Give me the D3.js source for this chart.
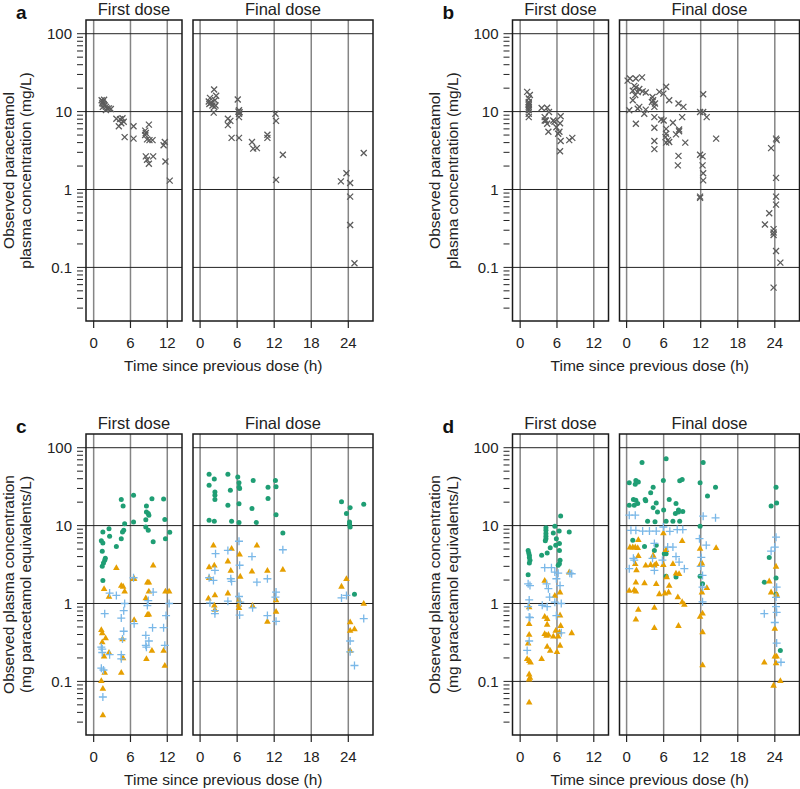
<!DOCTYPE html>
<html>
<head>
<meta charset="utf-8">
<script src="https://cdn.jsdelivr.net/npm/d3@7"></script>
<style>
  body { margin: 0; background: #fff; }
  svg text { font-family: "Liberation Sans", Arial, Helvetica, sans-serif; fill: #222; }
</style>
</head>
<body>
<svg id="chart" width="800" height="789"></svg>
<script>
// [time since dose (h), concentration]
const aFirst = [[1.3,14],[1.5,13.5],[1.6,12.5],[1.8,12],[2.0,11.5],[2.2,11],[2.5,11],[1.5,11.5],[2.8,10.8],[1.4,12.8],[2.0,10.5],[1.7,14.2],
  [3.7,8.1],[4.3,8.0],[4.7,8.2],[4.5,7.1],[4.9,7.4],[4.1,6.5],[5.05,4.7],[6.5,6.5],[6.5,4.5],[9.0,6.8],[8.4,5.7],[8.5,5.3],[8.4,5.0],
  [8.7,4.4],[9.1,4.3],[9.6,4.3],[8.5,2.66],[8.7,2.41],[9.0,2.14],[9.7,2.66],[11.6,4.07],[11.4,3.69],[11.7,2.29],[12.4,1.3]];
const aFinal = [[2.27,19.2],[1.6,15],[1.4,13.5],[1.8,13],[2.4,14],[2.5,12],[2.3,11.5],[1.5,12.5],[2.2,9.7],[2.6,16],[2.0,12],
  [6.1,14.3],[6.3,10.4],[6.3,9.4],[6.3,8.5],[6.4,9.8],[6.2,10],[4.5,8.1],[4.9,7.6],[4.5,6.7],[5.1,4.6],[6.3,4.6],[8.4,4.07],[8.6,3.35],
  [9.2,3.4],[10.9,5.05],[10.9,4.6],[12.2,9.4],[12.3,7.6],[13.4,2.8],[12.3,1.33],[26.5,2.94],[23.7,1.62],[22.8,1.27],[24.3,1.21],
  [24.3,0.81],[24.3,0.35],[25.0,0.113]];

const bFirst = [[1.14,17.9],[1.58,16.3],[1.4,14.7],[1.4,13.3],[1.4,12.7],[1.4,12.1],[1.4,11.5],[1.4,10.9],[1.4,10.4],[1.4,9.4],[1.4,8.5],
  [3.5,11.1],[4.4,11.2],[4.7,9.9],[4.0,8.5],[4.2,7.7],[4.4,7.0],[4.6,5.5],[4.0,7.7],[5.4,7.7],[5.6,7.4],[5.9,6.3],[6.4,5.5],
  [6.2,5.2],[6.6,4.2],[6.5,3.1],[6.6,8.7],[6.5,7.1],[8.0,4.3],[8.5,4.6]];
const bFinal = [[0.16,25],[0.54,26.6],[1.5,26.6],[2.5,27.5],[1.24,21.4],[1.5,20.4],[2.05,19.5],[1.0,18.5],[1.8,17.8],[2.6,18.2],[3.1,17.6],
  [1.4,16.3],[1.0,14],[0.43,10.4],[1.5,7.0],[2.05,11.5],[2.86,9.4],[3.1,10.6],[1.8,10.9],[4.2,15.4],[4.3,14],[4.1,13.3],[4.6,12.7],
  [4.5,11.5],[5.3,17.9],[5.95,17],[6.4,20.8],[4.5,8.5],[4.5,6.2],[4.5,4.2],[4.5,3.3],[5.6,7.9],[6.0,7.7],[6.4,6.0],[6.4,5.2],[6.3,4.7],
  [6.7,4.3],[6.9,4.07],[6.4,4.0],[6.9,14],[7.5,7.2],[8.0,5.1],[8.4,12.7],[9.2,11.5],[9.0,8.5],[8.5,5.9],[8.5,5.6],[9.5,4.0],[8.4,2.7],
  [8.3,2.04],[12.4,16.7],[11.9,9.9],[12.4,9.9],[12.97,8.5],[11.9,2.8],[12.3,2.66],[12.3,2.04],[12.4,1.62],[12.4,1.31],[11.9,0.81],
  [11.9,0.78],[14.5,4.5],[23.4,3.4],[24.2,4.5],[24.3,4.3],[24.2,1.41],[24.2,0.81],[24.2,0.64],[23.1,0.495],[22.4,0.355],[23.8,0.31],
  [23.8,0.28],[23.8,0.26],[24.2,0.162],[24.9,0.115],[23.8,0.055]];

const cFirstGreen = [[4.5,21.6],[6.5,24.5],[4.8,17.8],[9.5,22.2],[11.4,22],[8.6,17.9],[8.6,15],[8.9,14.3],[9.0,13.6],[8.5,11.9],[11.6,12],
  [6.5,11.1],[5.05,10.6],[4.9,8.7],[4.7,8.3],[4.5,6.8],[8.5,9.6],[8.9,8.7],[1.5,8.3],[2.5,9.1],[2.6,7.3],[1.25,6.4],[1.5,6.0],[1.4,4.7],
  [1.9,3.8],[1.8,3.6],[1.6,3.3],[1.4,3.0],[1.5,1.98],[3.7,5.4],[9.7,6.2],[11.7,6.8],[12.4,8.2]];
const cFirstOrange = [[3.7,2.88],[9.7,3.1],[6.5,2.08],[6.6,2.1],[4.5,1.7],[4.8,1.66],[5.05,1.44],[8.75,1.88],[9.0,1.88],[9.0,1.44],
  [11.7,1.44],[12.3,1.44],[1.7,1.55],[2.5,1.23],[8.5,1.18],[8.75,0.72],[9.0,0.73],[6.6,0.62],[1.25,0.46],[1.4,0.42],[1.95,0.36],
  [1.4,0.32],[2.5,0.235],[1.7,0.21],[4.7,0.35],[4.8,0.2],[9.5,0.25],[11.4,0.25],[8.6,0.195],[4.5,0.13],[11.6,0.16],[1.25,0.102],
  [1.5,0.081],[1.5,0.037],[1.8,0.13]];
const cFirstBlue = [[6.5,2.14],[2.6,1.36],[3.7,1.27],[9.7,1.4],[5.05,1.0],[4.9,0.81],[8.9,1.09],[8.75,0.94],[12.3,1.0],[11.8,0.7],
  [1.8,0.74],[4.5,0.65],[6.6,0.55],[4.9,0.44],[9.6,0.49],[11.4,0.49],[8.5,0.39],[9.0,0.33],[4.7,0.35],[1.25,0.275],[1.4,0.235],
  [1.4,0.26],[8.5,0.29],[8.6,0.275],[11.6,0.29],[4.5,0.22],[4.5,0.195],[2.6,0.22],[1.25,0.148],[1.6,0.14],[1.5,0.063]];
const cFinalGreen = [[1.46,45.8],[4.5,45.8],[6.1,42],[2.3,39.6],[1.46,33],[6.3,35.6],[6.3,31],[6.4,30],[8.6,38],[11.0,31],[12.2,38],
  [12.3,31.6],[2.4,27],[2.4,24.5],[2.4,21.6],[4.9,28.5],[11.0,22.3],[4.5,18.3],[6.3,19.1],[8.4,16.6],[12.3,13.8],[1.46,11.7],
  [2.3,11.4],[5.1,11.4],[6.3,11],[9.1,11],[13.4,8.05],[22.9,20.2],[24.3,17],[23.7,14.3],[26.5,18.8],[24.2,11.1],[24.2,10.4],
  [24.3,9.6],[25.0,1.31]];
const cFinalOrange = [[2.16,5.6],[5.1,5.1],[9.2,5.6],[6.4,4.3],[2.3,3.1],[1.46,2.94],[4.5,3.5],[4.97,2.66],[8.4,2.6],[10.9,2.66],
  [13.4,2.74],[1.46,2.14],[6.5,2.23],[23.7,2.08],[22.9,1.66],[1.35,1.17],[2.4,1.29],[4.5,1.36],[6.3,1.11],[12.3,1.11],[2.3,0.95],
  [2.4,0.84],[6.3,0.97],[6.3,0.88],[8.5,0.94],[12.3,0.79],[10.9,0.59],[26.5,1.0],[24.3,0.58],[24.3,0.45],[25.0,0.47],[24.3,0.25]];
const cFinalBlue = [[6.3,6.3],[4.5,4.8],[2.5,4.36],[8.4,4.0],[13.4,4.9],[6.4,3.1],[2.4,2.66],[1.46,2.14],[2.16,1.98],[4.97,2.08],
  [5.1,1.92],[9.2,1.88],[10.9,2.08],[12.3,1.4],[6.3,1.23],[4.5,1.07],[1.6,1.02],[6.5,1.04],[2.4,0.81],[2.4,0.74],[6.4,0.71],
  [8.5,0.88],[10.9,0.70],[12.3,0.59],[12.2,1.21],[22.9,1.18],[23.7,1.27],[26.5,0.64],[24.3,0.33],[24.3,0.24],[25.0,0.16]];

const dFirstGreen = [[6.6,13.3],[5.65,9.8],[6.36,8.5],[8.0,8.3],[4.2,9.4],[4.2,8.7],[4.2,7.9],[4.2,7.3],[4.2,6.8],[4.1,6.4],[5.4,8.05],
  [5.9,6.8],[6.4,5.9],[4.9,5.2],[4.4,4.45],[3.5,4.15],[5.8,5.6],[6.4,4.8],[6.5,3.6],[6.4,3.24],[6.2,3.1],[1.3,4.8],[1.4,4.45],
  [1.5,4.15],[1.5,3.9],[1.6,3.6],[1.5,3.3],[1.3,2.34]];
const dFirstOrange = [[8.0,2.53],[4.0,1.98],[6.5,1.4],[5.65,1.27],[1.47,0.9],[4.0,0.68],[4.4,0.64],[6.5,0.71],[1.47,0.55],[4.4,0.54],
  [6.6,0.52],[5.8,0.45],[6.4,0.43],[1.47,0.4],[4.0,0.41],[4.3,0.39],[4.6,0.4],[8.4,0.42],[5.4,0.38],[6.2,0.38],[6.5,0.29],[4.4,0.28],
  [1.3,0.31],[4.9,0.25],[6.0,0.24],[3.5,0.195],[1.14,0.195],[1.47,0.185],[1.7,0.176],[1.47,0.124],[1.6,0.112],[1.47,0.107],[1.47,0.054]];
const dFirstBlue = [[4.0,2.88],[5.1,2.88],[5.65,2.53],[6.2,2.45],[8.1,2.45],[8.4,2.41],[5.9,2.08],[1.3,1.79],[1.6,1.7],[4.3,1.79],
  [4.6,1.55],[6.5,1.7],[1.47,1.11],[1.3,0.91],[3.6,0.95],[4.4,0.91],[4.8,1.21],[5.65,1.04],[6.7,1.0],[1.47,0.67],[1.6,0.66],
  [5.9,0.70],[6.7,0.42],[1.47,0.33],[1.14,0.25]];
const dFinalGreen = [[2.5,64.6],[6.4,72],[12.4,64.6],[0.43,35.5],[1.5,38],[1.4,34],[1.9,36.4],[5.95,38],[8.6,37.6],[9.0,39],[11.9,35.5],
  [14.4,31],[4.3,31],[3.9,26.4],[3.0,21.6],[1.1,21.6],[1.5,21.2],[0.43,18.3],[1.24,18.3],[1.8,19.2],[3.1,20.8],[4.8,19.5],[6.9,21.6],
  [8.0,19.2],[4.3,17],[5.0,15],[6.0,15.9],[8.4,15.9],[9.1,15.2],[7.9,14.3],[8.4,15],[3.4,11.4],[6.4,11.4],[7.5,11.4],[8.6,11.4],
  [4.6,11.2],[13.1,24],[11.9,9.8],[1.0,6.5],[2.9,5.4],[4.8,5.6],[4.5,4.8],[6.1,4.36],[6.4,4.36],[8.0,2.19],[6.4,2.23],[11.9,2.23],
  [12.3,1.79],[24.2,31],[24.3,19.5],[23.4,17.8],[23.1,3.9],[24.2,2.12],[22.3,1.88],[24.2,1.31],[24.9,0.25]];
const dFinalOrange = [[5.95,8.05],[1.9,6.6],[9.0,6.4],[0.54,5.3],[1.0,5.3],[1.4,5.3],[1.8,5.2],[6.4,4.9],[11.9,5.1],[14.5,5.2],[1.9,4.1],
  [4.3,4.15],[4.8,3.24],[4.5,3.1],[1.4,3.24],[1.6,2.7],[3.1,3.1],[3.9,3.16],[5.95,3.16],[7.5,3.24],[8.0,2.45],[8.5,2.41],[12.2,3.3],
  [11.9,3.16],[1.5,1.88],[2.9,1.83],[4.8,1.79],[6.5,2.19],[6.9,1.7],[0.43,1.47],[1.24,1.5],[1.5,1.44],[5.3,1.33],[6.2,1.36],[6.8,1.4],
  [13.0,1.59],[8.3,1.21],[9.0,1.05],[9.35,0.97],[12.2,1.4],[1.9,0.84],[4.5,0.89],[11.9,0.68],[12.3,0.75],[1.5,0.63],[4.5,0.49],
  [8.4,0.52],[12.3,0.43],[12.3,0.162],[24.2,3.0],[23.1,1.94],[24.3,1.31],[23.4,1.4],[24.0,0.48],[22.3,0.176],[24.0,0.21],[24.3,0.21],
  [24.2,0.172],[24.9,0.102],[23.8,0.089]];
const dFinalBlue = [[0.43,13.6],[1.4,13.6],[14.4,12.6],[12.4,13.2],[0.7,8.7],[1.5,8.7],[2.6,8.5],[3.7,8.5],[4.8,8.5],[5.95,9.6],[7.0,8.45],
  [8.2,8.9],[9.1,8.9],[11.8,6.8],[12.9,5.6],[4.5,5.9],[6.65,5.3],[7.5,5.3],[1.1,3.8],[1.24,3.6],[4.2,3.8],[5.8,3.6],[8.0,4.0],[8.5,3.4],
  [0.43,2.8],[9.35,2.8],[4.5,2.66],[12.1,3.9],[12.0,3.0],[12.3,2.29],[12.3,1.62],[12.3,1.05],[24.2,7.1],[24.0,5.3],[23.4,4.7],
  [24.3,1.62],[24.2,1.2],[24.2,0.91],[22.3,0.74],[24.3,0.77],[24.0,0.57],[24.3,0.31],[25.0,0.176]];

const STRIP_LABELS = ["First dose", "Final dose"];
const X_TICKS_FIRST = [0, 6, 12];
const X_TICKS_FINAL = [0, 6, 12, 18, 24];
const Y_MAJOR = [0.1, 1, 10, 100];
const Y_TICK_LABELS = ["0.1", "1", "10", "100"];
const X_TITLE = "Time since previous dose (h)";
const Y_TITLE_TOP = ["Observed paracetamol", "plasma concentration (mg/L)"];
const Y_TITLE_BOTTOM = ["Observed plasma concentration", "(mg paracetamol equivalents/L)"];

const GREEN = "#1f9e74";
const ORANGE = "#e69f00";
const BLUE = "#7ab8e8";
const GREY = "#5c5c5c";

const svg = d3.select("#chart");

// shared geometry of one lettered panel (offsets added per panel)
const Y_RANGE = [321, 20];
const Y_DOMAIN = [0.0205, 150];
const FACETS = [
  { key: "first", domain: [-1.25, 14.4], range: [86, 182], ticks: X_TICKS_FIRST, label: STRIP_LABELS[0] },
  { key: "final", domain: [-1.15, 28.0], range: [193, 373], ticks: X_TICKS_FINAL, label: STRIP_LABELS[1] }
];

const SHAPES = {
  x: "M-3,-3L3,3M-3,3L3,-3",
  plus: "M-4,0H4M0,-4V4",
  tri: "M0,-3.5L3.3,2.3L-3.3,2.3Z"
};

function minorTicks() {
  const out = [];
  [0.01, 0.1, 1, 10, 100].forEach(d => {
    for (let k = 2; k <= 9; k++) {
      const v = d * k;
      if (v >= Y_DOMAIN[0] && v <= Y_DOMAIN[1]) out.push(v);
    }
  });
  return out;
}

function drawMarks(g, data, kind, color, x, y) {
  if (kind === "circle") {
    g.append("g").selectAll("circle").data(data).join("circle")
      .attr("cx", d => x(d[0])).attr("cy", d => y(d[1]))
      .attr("r", 2.5).attr("fill", color);
  } else if (kind === "tri") {
    g.append("g").selectAll("path").data(data).join("path")
      .attr("d", SHAPES.tri)
      .attr("transform", d => `translate(${x(d[0])},${y(d[1])})`)
      .attr("fill", color);
  } else {
    g.append("g").selectAll("path").data(data).join("path")
      .attr("d", SHAPES[kind])
      .attr("transform", d => `translate(${x(d[0])},${y(d[1])})`)
      .attr("fill", "none").attr("stroke", color).attr("stroke-width", 1.3);
  }
}

function drawPanel(cfg) {
  const g = svg.append("g").attr("transform", `translate(${cfg.dx},${cfg.dy})`);
  const y = d3.scaleLog().domain(Y_DOMAIN).range(Y_RANGE);

  // panel letter
  g.append("text").attr("x", 16).attr("y", 18.5)
    .attr("font-size", 19).attr("font-weight", "bold").style("fill", "#111")
    .text(cfg.letter);

  // y axis title, two lines
  cfg.ytitle.forEach((t, i) => {
    g.append("text")
      .attr("transform", `translate(${i === 0 ? 13.5 : 31},170.5) rotate(-90)`)
      .attr("text-anchor", "middle").attr("font-size", 15.5)
      .text(t);
  });

  // y ticks at left of first facet
  const left = FACETS[0].range[0];
  g.append("g").selectAll("line").data(minorTicks()).join("line")
    .attr("x1", left - 9).attr("x2", left - 3)
    .attr("y1", d => y(d)).attr("y2", d => y(d))
    .attr("stroke", "#222").attr("stroke-width", 1);
  g.append("g").selectAll("line").data(Y_MAJOR).join("line")
    .attr("x1", left - 9).attr("x2", left)
    .attr("y1", d => y(d)).attr("y2", d => y(d))
    .attr("stroke", "#222").attr("stroke-width", 1);
  g.append("g").selectAll("text").data(Y_MAJOR).join("text")
    .attr("x", left - 14).attr("y", d => y(d)).attr("dy", "0.36em")
    .attr("text-anchor", "end").attr("font-size", 15)
    .text((d, i) => Y_TICK_LABELS[i]);

  FACETS.forEach(f => {
    const x = d3.scaleLinear().domain(f.domain).range(f.range);
    const fg = g.append("g");
    const [x0, x1] = f.range;
    const [yb, yt] = Y_RANGE;

    // strip label
    fg.append("text").attr("x", (x0 + x1) / 2).attr("y", 14.5)
      .attr("text-anchor", "middle").attr("font-size", 16.5).text(f.label);

    // vertical reference lines
    fg.append("g").selectAll("line").data(f.ticks).join("line")
      .attr("x1", d => x(d)).attr("x2", d => x(d)).attr("y1", yt).attr("y2", yb)
      .attr("stroke", "#858585").attr("stroke-width", 1.5);
    // horizontal reference lines
    fg.append("g").selectAll("line").data(Y_MAJOR).join("line")
      .attr("x1", x0).attr("x2", x1).attr("y1", d => y(d)).attr("y2", d => y(d))
      .attr("stroke", "#222").attr("stroke-width", 1);

    cfg.series.forEach(s => drawMarks(fg, s[f.key], s.kind, s.color, x, y));

    // facet box
    fg.append("rect").attr("x", x0).attr("y", yt).attr("width", x1 - x0).attr("height", yb - yt)
      .attr("fill", "none").attr("stroke", "#1a1a1a").attr("stroke-width", 1.5);

    // x ticks and labels
    fg.append("g").selectAll("line").data(f.ticks).join("line")
      .attr("x1", d => x(d)).attr("x2", d => x(d)).attr("y1", yb).attr("y2", yb + 7)
      .attr("stroke", "#222").attr("stroke-width", 1.2);
    fg.append("g").selectAll("text").data(f.ticks).join("text")
      .attr("x", d => x(d)).attr("y", 348)
      .attr("text-anchor", "middle").attr("font-size", 15)
      .text(d => d);
  });

  g.append("text").attr("x", 223.3).attr("y", 371)
    .attr("text-anchor", "middle").attr("font-size", 15.5).text(X_TITLE);
}

const PANELS = [
  { letter: "a", dx: 0, dy: 0, ytitle: Y_TITLE_TOP,
    series: [{ first: aFirst, final: aFinal, kind: "x", color: GREY }] },
  { letter: "b", dx: 426.5, dy: 0, ytitle: Y_TITLE_TOP,
    series: [{ first: bFirst, final: bFinal, kind: "x", color: GREY }] },
  { letter: "c", dx: 0, dy: 414, ytitle: Y_TITLE_BOTTOM,
    series: [
      { first: cFirstGreen, final: cFinalGreen, kind: "circle", color: GREEN },
      { first: cFirstOrange, final: cFinalOrange, kind: "tri", color: ORANGE },
      { first: cFirstBlue, final: cFinalBlue, kind: "plus", color: BLUE }
    ] },
  { letter: "d", dx: 426.5, dy: 414, ytitle: Y_TITLE_BOTTOM,
    series: [
      { first: dFirstGreen, final: dFinalGreen, kind: "circle", color: GREEN },
      { first: dFirstOrange, final: dFinalOrange, kind: "tri", color: ORANGE },
      { first: dFirstBlue, final: dFinalBlue, kind: "plus", color: BLUE }
    ] }
];

PANELS.forEach(drawPanel);
</script>
</body>
</html>
